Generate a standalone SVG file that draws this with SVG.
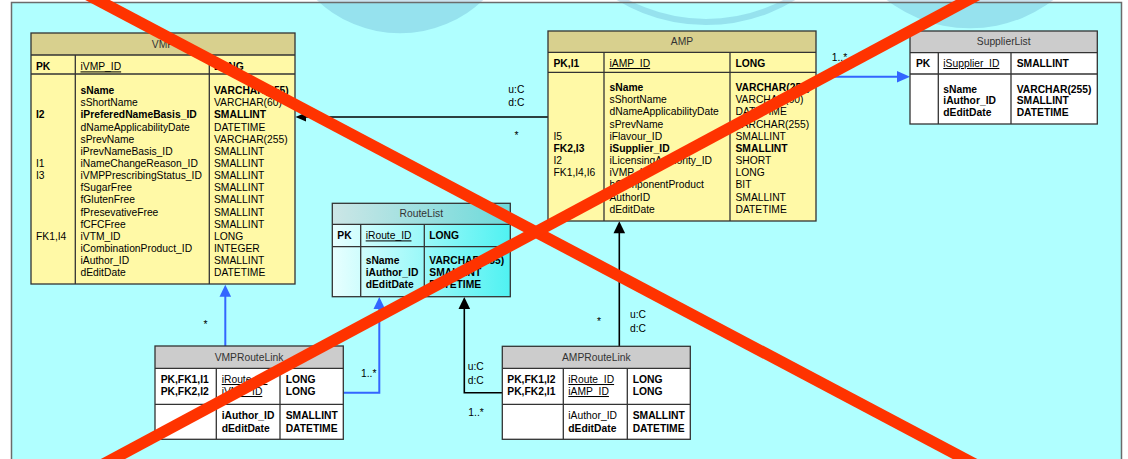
<svg xmlns="http://www.w3.org/2000/svg" width="1128" height="459" viewBox="0 0 1128 459">
<defs>
<style>
text{font-family:"Liberation Sans",Arial,sans-serif;font-size:10.3px;fill:#000}
.b{font-weight:bold}
.u{text-decoration:underline}
.h{fill:#333;text-anchor:middle}
.frame{fill:none;stroke:#333;stroke-width:1.3}
.sep{stroke:#333;stroke-width:1.3}
.yb{fill:#fff9a6}
.yh{fill:#d8d08e}
.gh{fill:#cccccc}
.wb{fill:#ffffff}
.blk{stroke:#000;stroke-width:1.6;fill:none}
.blu{stroke:#3366ff;stroke-width:2;fill:none}
.ahb{fill:#000}
.ahu{fill:#3366ff}
.wm{fill:#5aa0c8;opacity:0.3}
.x{stroke:#ff3300;stroke-width:11.5;stroke-linecap:butt}
</style>
<linearGradient id="rlBody" x1="0" y1="0" x2="1" y2="0">
<stop offset="0" stop-color="#e8ffff"/>
<stop offset="1" stop-color="#50f2f2"/>
</linearGradient>
<linearGradient id="rlHead" x1="0" y1="0" x2="1" y2="0">
<stop offset="0" stop-color="#cce6e6"/>
<stop offset="1" stop-color="#6cdada"/>
</linearGradient>
</defs>

<g id="background">
<rect x="0" y="0" width="1128" height="459" fill="#ffffff"/>
<rect x="11.5" y="2.5" width="1110" height="470" fill="#b0ffff"/>
<circle class="wm" cx="400" cy="-87.5" r="120.8"/>
<circle cx="706" cy="-147" r="169" fill="none" stroke="#5aa0c8" stroke-opacity="0.3" stroke-width="6"/>
<circle class="wm" cx="970" cy="-108.4" r="136.7"/>
<rect x="11.5" y="2.5" width="1110" height="470" fill="none" stroke="#6b6b6b" stroke-width="1.5"/>
</g>

<g id="connectors">
<line class="blk" x1="548" y1="117" x2="305" y2="117"/>
<polygon class="ahb" points="295.5,117 306,112.5 306,121.5"/>
<line class="blu" x1="816" y1="76.7" x2="898" y2="76.7"/>
<polygon class="ahu" points="910,76.7 897,71 897,82.5"/>
<line class="blu" x1="225.3" y1="346" x2="225.3" y2="296"/>
<polygon class="ahu" points="225.3,284.8 219.5,296.8 231.1,296.8"/>
<polyline class="blu" points="343.3,392.7 379.3,392.7 379.3,308"/>
<polygon class="ahu" points="379.3,297 373.5,309 385.1,309"/>
<polyline class="blk" points="502.3,392.7 464.3,392.7 464.3,308"/>
<polygon class="ahb" points="464.3,297 458.5,309 470.1,309"/>
<line class="blk" x1="619.3" y1="346.3" x2="619.3" y2="232"/>
<polygon class="ahb" points="619.3,221.2 613.5,233.2 625.1,233.2"/>
<text x="508.3" y="93">u:C</text>
<text x="508.3" y="105.5">d:C</text>
<text x="514.5" y="138.5">*</text>
<text x="831.7" y="61">1..*</text>
<text x="203.5" y="327.5">*</text>
<text x="361" y="377">1..*</text>
<text x="467.7" y="370.4">u:C</text>
<text x="467.7" y="383.7">d:C</text>
<text x="468.3" y="416">1..*</text>
<text x="630" y="318">u:C</text>
<text x="630" y="332">d:C</text>
<text x="597" y="325">*</text>
</g>

<g id="VMP">
<rect class="yb" x="31" y="33" width="264" height="251"/>
<rect class="yh" x="31" y="33" width="264" height="22"/>
<line class="sep" x1="31" y1="55" x2="295" y2="55"/>
<line class="sep" x1="31" y1="74" x2="295" y2="74"/>
<line class="sep" x1="75.3" y1="55" x2="75.3" y2="284"/>
<line class="sep" x1="209.3" y1="55" x2="209.3" y2="284"/>
<rect class="frame" x="31" y="33" width="264" height="251"/>
<text class="h" x="163" y="48">VMP</text>
<text class="b" x="36" y="70.4">PK</text>
<text class="u" x="80.5" y="70.4">iVMP_ID</text>
<text class="b" x="214" y="70.4">LONG</text>
<text class="b" x="80.5" y="94">sName</text><text class="b" x="214" y="94">VARCHAR(255)</text>
<text x="80.5" y="106.2">sShortName</text><text x="214" y="106.2">VARCHAR(60)</text>
<text class="b" x="36" y="118.3">I2</text><text class="b" x="80.5" y="118.3">iPreferedNameBasis_ID</text><text class="b" x="214" y="118.3">SMALLINT</text>
<text x="80.5" y="130.5">dNameApplicabilityDate</text><text x="214" y="130.5">DATETIME</text>
<text x="80.5" y="142.6">sPrevName</text><text x="214" y="142.6">VARCHAR(255)</text>
<text x="80.5" y="154.8">iPrevNameBasis_ID</text><text x="214" y="154.8">SMALLINT</text>
<text x="36" y="167">I1</text><text x="80.5" y="167">iNameChangeReason_ID</text><text x="214" y="167">SMALLINT</text>
<text x="36" y="179.1">I3</text><text x="80.5" y="179.1">iVMPPrescribingStatus_ID</text><text x="214" y="179.1">SMALLINT</text>
<text x="80.5" y="191.3">fSugarFree</text><text x="214" y="191.3">SMALLINT</text>
<text x="80.5" y="203.4">fGlutenFree</text><text x="214" y="203.4">SMALLINT</text>
<text x="80.5" y="215.6">fPresevativeFree</text><text x="214" y="215.6">SMALLINT</text>
<text x="80.5" y="227.8">fCFCFree</text><text x="214" y="227.8">SMALLINT</text>
<text x="36" y="239.9">FK1,I4</text><text x="80.5" y="239.9">iVTM_ID</text><text x="214" y="239.9">LONG</text>
<text x="80.5" y="252.1">iCombinationProduct_ID</text><text x="214" y="252.1">INTEGER</text>
<text x="80.5" y="264.2">iAuthor_ID</text><text x="214" y="264.2">SMALLINT</text>
<text x="80.5" y="276.4">dEditDate</text><text x="214" y="276.4">DATETIME</text>
</g>

<g id="AMP">
<rect class="yb" x="548" y="31" width="268" height="190"/>
<rect class="yh" x="548" y="31" width="268" height="21.3"/>
<line class="sep" x1="548" y1="52.3" x2="816" y2="52.3"/>
<line class="sep" x1="548" y1="72.3" x2="816" y2="72.3"/>
<line class="sep" x1="604" y1="52.3" x2="604" y2="221"/>
<line class="sep" x1="730" y1="52.3" x2="730" y2="221"/>
<rect class="frame" x="548" y="31" width="268" height="190"/>
<text class="h" x="682" y="45.4">AMP</text>
<text class="b" x="553.5" y="67">PK,I1</text>
<text class="u" x="609.5" y="67">iAMP_ID</text>
<text class="b" x="735.5" y="67">LONG</text>
<text class="b" x="609.5" y="91">sName</text><text class="b" x="735.5" y="91">VARCHAR(255)</text>
<text x="609.5" y="103.2">sShortName</text><text x="735.5" y="103.2">VARCHAR(60)</text>
<text x="609.5" y="115.3">dNameApplicabilityDate</text><text x="735.5" y="115.3">DATETIME</text>
<text x="609.5" y="127.5">sPrevName</text><text x="735.5" y="127.5">VARCHAR(255)</text>
<text x="553.5" y="139.7">I5</text><text x="609.5" y="139.7">iFlavour_ID</text><text x="735.5" y="139.7">SMALLINT</text>
<text class="b" x="553.5" y="151.9">FK2,I3</text><text class="b" x="609.5" y="151.9">iSupplier_ID</text><text class="b" x="735.5" y="151.9">SMALLINT</text>
<text x="553.5" y="164">I2</text><text x="609.5" y="164">iLicensingAuthority_ID</text><text x="735.5" y="164">SHORT</text>
<text x="553.5" y="176.2">FK1,I4,I6</text><text x="609.5" y="176.2">iVMP_ID</text><text x="735.5" y="176.2">LONG</text>
<text x="609.5" y="188.4">bComponentProduct</text><text x="735.5" y="188.4">BIT</text>
<text x="609.5" y="200.5">AuthorID</text><text x="735.5" y="200.5">SMALLINT</text>
<text x="609.5" y="212.7">dEditDate</text><text x="735.5" y="212.7">DATETIME</text>
</g>

<g id="SupplierList">
<rect class="wb" x="910" y="31" width="187.3" height="93"/>
<rect class="gh" x="910" y="31" width="187.3" height="21.7"/>
<line class="sep" x1="910" y1="52.7" x2="1097.3" y2="52.7"/>
<line class="sep" x1="910" y1="74" x2="1097.3" y2="74"/>
<line class="sep" x1="938.3" y1="52.7" x2="938.3" y2="124"/>
<line class="sep" x1="1011" y1="52.7" x2="1011" y2="124"/>
<rect class="frame" x="910" y="31" width="187.3" height="93"/>
<text class="h" x="1003.7" y="45.4">SupplierList</text>
<text class="b" x="916" y="67">PK</text>
<text class="u" x="943.3" y="67">iSupplier_ID</text>
<text class="b" x="1016.7" y="67">SMALLINT</text>
<text class="b" x="943.3" y="92.8">sName</text><text class="b" x="1016.7" y="92.8">VARCHAR(255)</text>
<text class="b" x="943.3" y="104.4">iAuthor_ID</text><text class="b" x="1016.7" y="104.4">SMALLINT</text>
<text class="b" x="943.3" y="116">dEditDate</text><text class="b" x="1016.7" y="116">DATETIME</text>
</g>

<g id="RouteList">
<rect x="332.3" y="203.3" width="178" height="93.4" fill="url(#rlBody)"/>
<rect x="332.3" y="203.3" width="178" height="21" fill="url(#rlHead)"/>
<line class="sep" x1="332.3" y1="224.3" x2="510.3" y2="224.3"/>
<line class="sep" x1="332.3" y1="246.7" x2="510.3" y2="246.7"/>
<line class="sep" x1="360.7" y1="224.3" x2="360.7" y2="296.7"/>
<line class="sep" x1="424.3" y1="224.3" x2="424.3" y2="296.7"/>
<rect class="frame" x="332.3" y="203.3" width="178" height="93.4"/>
<text class="h" x="421.3" y="217.4">RouteList</text>
<text class="b" x="337.3" y="239.4">PK</text>
<text class="u" x="365.7" y="239.4">iRoute_ID</text>
<text class="b" x="429.3" y="239.4">LONG</text>
<text class="b" x="365.7" y="264.4">sName</text><text class="b" x="429.3" y="264.4">VARCHAR(255)</text>
<text class="b" x="365.7" y="276.1">iAuthor_ID</text><text class="b" x="429.3" y="276.1">SMALLINT</text>
<text class="b" x="365.7" y="287.8">dEditDate</text><text class="b" x="429.3" y="287.8">DATETIME</text>
</g>

<g id="VMPRouteLink">
<rect class="wb" x="155" y="346" width="188.3" height="93.3"/>
<rect class="gh" x="155" y="346" width="188.3" height="22.3"/>
<line class="sep" x1="155" y1="368.3" x2="343.3" y2="368.3"/>
<line class="sep" x1="155" y1="404.3" x2="343.3" y2="404.3"/>
<line class="sep" x1="216.3" y1="368.3" x2="216.3" y2="439.3"/>
<line class="sep" x1="280" y1="368.3" x2="280" y2="439.3"/>
<rect class="frame" x="155" y="346" width="188.3" height="93.3"/>
<text class="h" x="249" y="361">VMPRouteLink</text>
<text class="b" x="160.7" y="383">PK,FK1,I1</text>
<text class="b" x="160.7" y="395">PK,FK2,I2</text>
<text class="u" x="221.7" y="383">iRoute_ID</text>
<text class="u" x="221.7" y="395">iVMP_ID</text>
<text class="b" x="285.7" y="383">LONG</text>
<text class="b" x="285.7" y="395">LONG</text>
<text class="b" x="221.7" y="419.4">iAuthor_ID</text><text class="b" x="285.7" y="419.4">SMALLINT</text>
<text class="b" x="221.7" y="431.7">dEditDate</text><text class="b" x="285.7" y="431.7">DATETIME</text>
</g>

<g id="AMPRouteLink">
<rect class="wb" x="502.3" y="346.3" width="188" height="93"/>
<rect class="gh" x="502.3" y="346.3" width="188" height="22"/>
<line class="sep" x1="502.3" y1="368.3" x2="690.3" y2="368.3"/>
<line class="sep" x1="502.3" y1="404.3" x2="690.3" y2="404.3"/>
<line class="sep" x1="563.3" y1="368.3" x2="563.3" y2="439.3"/>
<line class="sep" x1="627.3" y1="368.3" x2="627.3" y2="439.3"/>
<rect class="frame" x="502.3" y="346.3" width="188" height="93"/>
<text class="h" x="596.3" y="361">AMPRouteLink</text>
<text class="b" x="507.3" y="383">PK,FK1,I2</text>
<text class="b" x="507.3" y="395">PK,FK2,I1</text>
<text class="u" x="568.3" y="383">iRoute_ID</text>
<text class="u" x="568.3" y="395">iAMP_ID</text>
<text class="b" x="632.7" y="383">LONG</text>
<text class="b" x="632.7" y="395">LONG</text>
<text x="568.3" y="419.4">iAuthor_ID</text><text class="b" x="632.7" y="419.4">SMALLINT</text>
<text class="b" x="568.3" y="431.7">dEditDate</text><text class="b" x="632.7" y="431.7">DATETIME</text>
</g>

<g id="crossout">
<line class="x" x1="78.6" y1="-10" x2="985.8" y2="470"/>
<line class="x" x1="986.6" y1="-10" x2="92.5" y2="470"/>
</g>
</svg>
